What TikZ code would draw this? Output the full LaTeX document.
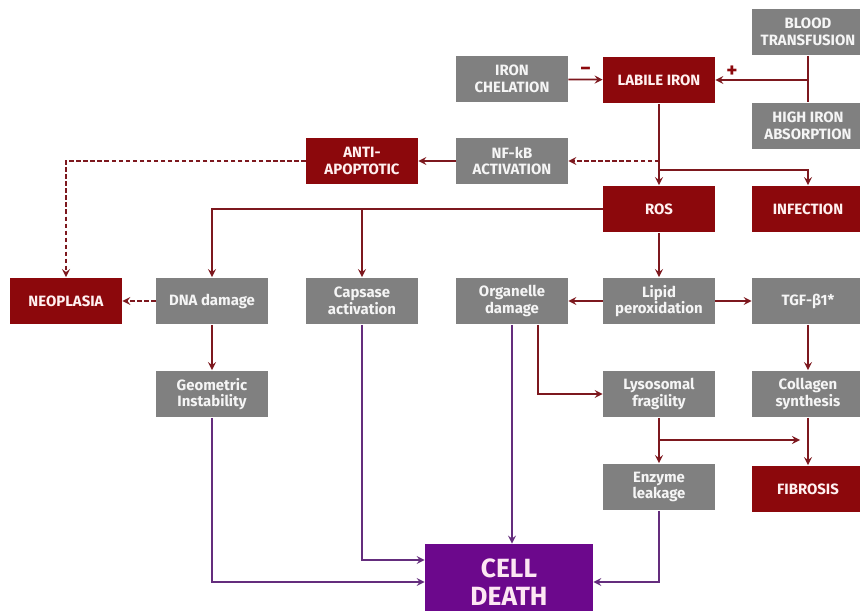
\documentclass[tikz,border=0pt]{standalone}
\usepackage{fontspec}
\setmainfont{Fira Sans}
\usepackage{tikz}
\usetikzlibrary{arrows, positioning, calc}
\definecolor{ironred}{RGB}{140,8,12}
\definecolor{irongray}{RGB}{128,128,128}
\definecolor{deathpurple}{RGB}{108,8,140}
\definecolor{linkred}{RGB}{125,24,30}
\definecolor{linkpurple}{RGB}{100,45,125}
\tikzstyle{redbox} = [rectangle, minimum width=2.24cm, minimum height=0.94cm, text centered, align=center, inner sep=1pt, fill=ironred, text=red!6, font=\fontsize{8.5}{9.5}\selectfont\bfseries]
\tikzstyle{graybox} = [rectangle, minimum width=2.24cm, minimum height=0.94cm, text centered, align=center, inner sep=1pt, fill=irongray, text=white!92!gray, font=\fontsize{8.5}{9.5}\selectfont\bfseries]
\tikzstyle{deathbox} = [rectangle, minimum width=3.36cm, minimum height=1.52cm, text centered, align=center, inner sep=1pt, fill=deathpurple, text=magenta!10, font=\fontsize{15}{16}\selectfont\bfseries]
\tikzstyle{signlabel} = [text=ironred, font=\large\bfseries, inner sep=1pt]
\tikzstyle{arrow} = [line width=1pt, draw=linkred, ->, >=stealth]
\tikzstyle{dasharrow} = [arrow, dash pattern=on 2.5pt off 1.5pt]
\tikzstyle{deatharrow} = [line width=1pt, draw=linkpurple, ->, >=stealth]

\begin{document}
\begin{tikzpicture}[x=0.02cm, y=-0.02cm]
    \clip (0,0) rectangle (860,611);
    \fill [white] (0,0) rectangle (860,611);

    % Iron supply
    \node (chelation) [graybox] at (512,79) {IRON\\CHELATION};
    \node (labile) [redbox] at (659,80) {LABILE IRON};
    \node (blood) [graybox] at (808,32) {BLOOD\\TRANSFUSION};
    \node (absorption) [graybox] at (808,126) {HIGH IRON\\ABSORPTION};
    \coordinate (supply) at (808,80);

    % First effects
    \node (nfkb) [graybox] at (512,161) {NF-kB\\ACTIVATION};
    \node (antiapo) [redbox] at (362,161) {ANTI-\\APOPTOTIC};
    \node (ros) [redbox] at (659,209) {ROS};
    \node (infection) [redbox] at (808,209) {INFECTION};
    \coordinate (infsplit) at (659,170);

    % Damage row
    \node (neoplasia) [redbox] at (66,301) {NEOPLASIA};
    \node (dna) [graybox] at (212,301) {DNA damage};
    \node (capsase) [graybox] at (362,301) {Capsase\\activation};
    \node (organelle) [graybox] at (512,301) {Organelle\\damage};
    \node (lipid) [graybox] at (659,301) {Lipid\\peroxidation};
    \node (tgf) [graybox] at (808,301) {TGF-β1*};

    % Later effects
    \node (geometric) [graybox] at (212,394) {Geometric\\Instability};
    \node (lysosomal) [graybox] at (659,394) {Lysosomal\\fragility};
    \node (collagen) [graybox] at (808,394) {Collagen\\synthesis};
    \node (enzyme) [graybox] at (659,487) {Enzyme\\leakage};
    \node (fibrosis) [redbox] at (808,489) {FIBROSIS};
    \node (death) [deathbox] at (509,582) {CELL\\DEATH};
    \coordinate (lysosplit) at (659,440);
    \coordinate (fibjoin) at (800,440);

    % Connections
    \draw [arrow] (chelation) -- node[above=1pt, signlabel] {−} (labile);
    \draw [line width=1pt, draw=linkred] (blood) -- (absorption);
    \draw [arrow] (supply) -- node[above, pos=0.82, signlabel] {+} (labile);
    \draw [arrow] (labile) -- (ros);
    \draw [dasharrow] (labile.south |- nfkb.east) -- (nfkb.east);
    \draw [arrow] (infsplit) -| (infection);
    \draw [arrow] (nfkb) -- (antiapo);
    \draw [dasharrow] (antiapo) -| (neoplasia);
    \draw [arrow] (ros) -| (dna);
    \draw [arrow] (ros) -| (capsase);
    \draw [arrow] (ros) -- (lipid);
    \draw [arrow] (lipid) -- (organelle);
    \draw [arrow] (lipid) -- (tgf);
    \draw [dasharrow] (dna) -- (neoplasia);
    \draw [arrow] (dna) -- (geometric);
    \draw [arrow] (tgf) -- (collagen);
    \draw [arrow] ($(organelle.south)+(26,0)$) |- (lysosomal);
    \draw [arrow] (lysosomal) -- (enzyme);
    \draw [arrow] (lysosplit) -- (fibjoin);
    \draw [arrow] (collagen) -- (fibrosis);

    % Towards cell death
    \draw [deatharrow] (organelle.south) -- (organelle.south |- death.north);
    \draw [deatharrow] (capsase) |- ($(death.west)+(0,-22)$);
    \draw [deatharrow] (geometric) |- (death.west);
    \draw [deatharrow] (enzyme) |- (death.east);
\end{tikzpicture}
\end{document}
